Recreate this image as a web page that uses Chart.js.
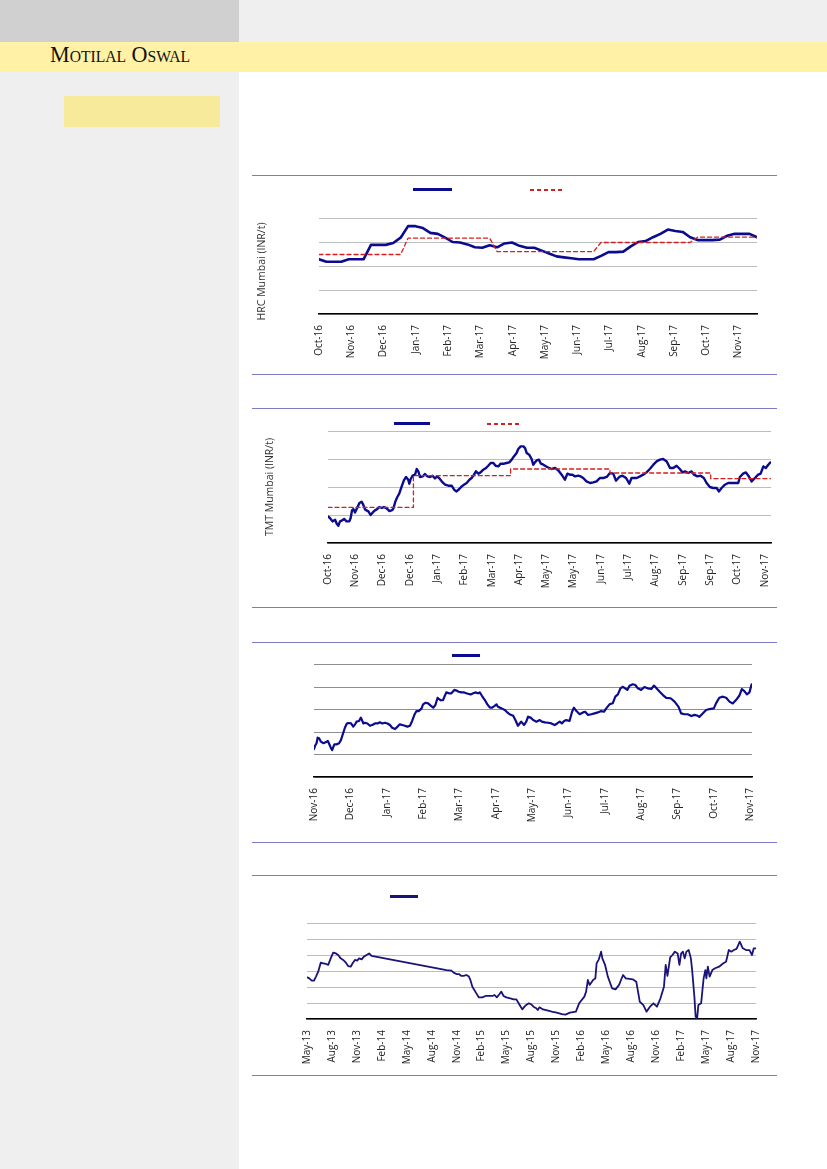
<!DOCTYPE html>
<html>
<head>
<meta charset="utf-8">
<script src="https://cdn.jsdelivr.net/npm/chart.js@4.4.1/dist/chart.umd.min.js"></script>
<style>
  html, body { margin: 0; padding: 0; }
  body { width: 827px; height: 1169px; position: relative; overflow: hidden; background: #fff; font-family: "Open Sans", sans-serif; }
  .box { position: absolute; }
  canvas { position: absolute; }
  .rule { position: absolute; left: 252px; width: 525px; height: 0; border-top: 1.5px solid #7b7bc6; }
  .legBlue { position: absolute; height: 3px; background: #0b0b8f; }
  .legRed { position: absolute; height: 1.5px; background: repeating-linear-gradient(90deg, #d42020 0 4px, transparent 4px 7px); }
  .brand { position: absolute; left: 50px; top: 41px; font-family: "Liberation Serif", serif; font-variant: small-caps; font-size: 24px; color: #111; transform: scaleX(0.92); transform-origin: left top; }
</style>
</head>
<body>
<!-- page frame -->
<div class="box" style="left:0;top:0;width:239px;height:42px;background:#d0d0d0"></div>
<div class="box" style="left:239px;top:0;width:588px;height:42px;background:#efefef"></div>
<div class="box" style="left:0;top:72px;width:239px;height:1097px;background:#efefef"></div>
<div class="box" style="left:0;top:42px;width:827px;height:30px;background:#fff1a6"></div>
<div class="brand">Motilal Oswal</div>
<div class="box" style="left:64px;top:96px;width:156px;height:31px;background:#f7eb9b"></div>

<div class="rule" style="top:175px"></div>
<div class="rule" style="top:374px"></div>
<div class="rule" style="top:408px"></div>
<div class="rule" style="top:607px"></div>
<div class="rule" style="top:642px"></div>
<div class="rule" style="top:842px"></div>
<div class="rule" style="top:875px"></div>
<div class="rule" style="top:1075px"></div>

<!-- legend samples (legend text is absent in the source) -->
<div class="legBlue" style="left:413px;top:188px;width:39px"></div>
<div class="legRed" style="left:530px;top:189px;width:35px"></div>
<div class="legBlue" style="left:394px;top:422px;width:36px"></div>
<div class="legRed" style="left:487px;top:423px;width:33px"></div>
<div class="legBlue" style="left:452px;top:654px;width:28px"></div>
<div class="legBlue" style="left:390px;top:895px;width:28px;background:#1a1479"></div>

<canvas id="hrcChart" width="525" height="170" style="left:250px;top:196px"></canvas>
<canvas id="tmtChart" width="529" height="185" style="left:256px;top:410px"></canvas>
<canvas id="thirdChart" width="476" height="186" style="left:290px;top:645px"></canvas>
<canvas id="longChart" width="488" height="168" style="left:283px;top:903px"></canvas>

<script>
// ---- chart 1 : HRC Mumbai, weekly ----
const hrcLabels = ['Oct-16', 'Nov-16', 'Dec-16', 'Jan-17', 'Feb-17', 'Mar-17', 'Apr-17',
    'May-17', 'Jun-17', 'Jul-17', 'Aug-17', 'Sep-17', 'Oct-17', 'Nov-17'];
const hrcPrice = [36400, 35900, 35900, 35900, 36400, 36400, 36400, 39400, 39400, 39400,
    39800, 40900, 43300, 43300, 42900, 41900, 41700, 40900, 40000, 39900,
    39500, 38900, 38800, 39300, 38900, 39700, 39900, 39200, 38800, 38800,
    38200, 37600, 37000, 36800, 36600, 36400, 36400, 36400, 37100, 37900,
    37900, 38000, 39100, 40000, 40200, 41000, 41700, 42600, 42300, 42100,
    41000, 40400, 40400, 40400, 40500, 41300, 41700, 41700, 41700, 41000];
const hrcList = [37400, 37400, 37400, 37400, 37400, 37400, 37400, 37400, 37400, 37400,
    37400, 37400, 40800, 40800, 40800, 40800, 40800, 40800, 40800, 40800,
    40800, 40800, 40800, 40800, 38000, 38000, 38000, 38000, 38000, 38000,
    38000, 38000, 38000, 38000, 38000, 38000, 38000, 38000, 39900, 39900,
    39900, 39900, 39900, 39900, 39900, 39900, 39900, 39900, 39900, 39900,
    39900, 41000, 41000, 41000, 41000, 41000, 41000, 41000, 41000, 41000];

// ---- chart 2 : TMT Mumbai, daily ----
const tmtLabels = ['Oct-16', 'Nov-16', 'Dec-16', 'Dec-16', 'Jan-17', 'Feb-17', 'Mar-17', 'Apr-17',
    'May-17', 'May-17', 'Jun-17', 'Jul-17', 'Aug-17', 'Sep-17', 'Sep-17', 'Oct-17', 'Nov-17'];
const tmtX = [0.00, 0.07, 0.17, 0.26, 0.32, 0.38, 0.44, 0.50, 0.59, 0.68, 0.78, 0.83, 0.88, 0.93, 0.99,
    1.05, 1.15, 1.23, 1.29, 1.36, 1.48, 1.56, 1.64, 1.72, 1.81, 1.88, 1.97, 2.05, 2.15, 2.25,
    2.33, 2.39, 2.47, 2.54, 2.61, 2.70, 2.78, 2.86, 2.94, 2.98, 3.03, 3.10, 3.19, 3.25, 3.31,
    3.37, 3.47, 3.55, 3.64, 3.74, 3.83, 3.92, 4.00, 4.10, 4.20, 4.29, 4.41, 4.53, 4.62, 4.71,
    4.81, 4.90, 4.98, 5.08, 5.18, 5.26, 5.35, 5.42, 5.51, 5.59, 5.69, 5.79, 5.87, 5.96, 6.06,
    6.14, 6.24, 6.32, 6.45, 6.54, 6.64, 6.73, 6.81, 6.91, 6.97, 7.06, 7.16, 7.22, 7.28, 7.37,
    7.46, 7.52, 7.58, 7.64, 7.73, 7.80, 7.89, 8.03, 8.19, 8.32, 8.44, 8.56, 8.68, 8.77, 8.86,
    8.96, 9.05, 9.17, 9.26, 9.35, 9.47, 9.60, 9.72, 9.84, 9.96, 10.09, 10.21, 10.33, 10.45, 10.55,
    10.67, 10.79, 10.92, 11.04, 11.12, 11.31, 11.43, 11.55, 11.67, 11.79, 11.92, 12.04, 12.16, 12.28, 12.41,
    12.53, 12.65, 12.77, 12.89, 12.99, 13.08, 13.20, 13.32, 13.41, 13.53, 13.65, 13.77, 13.87, 13.99, 14.11,
    14.24, 14.32, 14.42, 14.54, 14.66, 14.85, 15.03, 15.09, 15.21, 15.31, 15.40, 15.52, 15.64, 15.76, 15.85,
    15.95, 16.04, 16.13, 16.21];
const tmtPrice = [29750, 29460, 28860, 29160, 28450, 28090, 28860, 28980, 29290, 28860, 28860, 29460, 30820, 31070, 30460,
    31070, 32140, 32380, 31840, 30950, 30640, 30000, 30460, 30820, 31070, 31430, 31250, 31430, 31180, 30710,
    30820, 31070, 32430, 33210, 33800, 35110, 36180, 36790, 36300, 35590, 36430, 37020, 37200, 38210, 37790,
    36790, 36890, 37320, 36890, 36790, 37020, 36540, 36890, 36430, 35820, 35410, 35230, 35230, 34520, 34210,
    34640, 35110, 35410, 35710, 36300, 36610, 37200, 37790, 37380, 37610, 38090, 38390, 38800, 39290, 39290,
    38800, 38680, 39160, 39160, 39290, 39390, 39880, 40460, 41070, 41790, 42250, 42250, 41960, 41070, 40770,
    40000, 38980, 39390, 39750, 39880, 39160, 38980, 38570, 38210, 38390, 37960, 37200, 36300, 37380, 37200,
    37200, 36890, 37020, 36890, 36610, 36000, 35710, 35820, 36000, 36610, 36610, 36790, 37500, 37380, 36130,
    36790, 37020, 36610, 35590, 36610, 36610, 36890, 37200, 37610, 38210, 38980, 39570, 39880, 40000, 39570,
    38390, 38390, 38800, 38210, 37610, 37790, 37500, 37790, 37200, 36890, 37020, 36610, 35710, 35000, 34820,
    34820, 34210, 34820, 35410, 35710, 35710, 35710, 36790, 37380, 37610, 37020, 36000, 36610, 37200, 37380,
    38680, 38390, 38980, 39390];
// list price revisions (step changes)
const tmtListX = [0, 3.13, 6.69, 10.33, 14.02, 16.21];
const tmtList = [31360, 37020, 38210, 37500, 36480, 36480];

// ---- chart 3 ----
const thirdLabels = ['Nov-16', 'Dec-16', 'Jan-17', 'Feb-17', 'Mar-17', 'Apr-17', 'May-17',
    'Jun-17', 'Jul-17', 'Aug-17', 'Sep-17', 'Oct-17', 'Nov-17'];
const thirdX = [0.00, 0.03, 0.07, 0.10, 0.14, 0.19, 0.26, 0.32, 0.38, 0.41, 0.47, 0.50, 0.56, 0.62, 0.69,
    0.74, 0.81, 0.85, 0.90, 0.94, 1.02, 1.08, 1.13, 1.17, 1.24, 1.29, 1.36, 1.40, 1.47, 1.54,
    1.60, 1.68, 1.75, 1.81, 1.88, 1.95, 2.02, 2.09, 2.15, 2.23, 2.30, 2.36, 2.43, 2.50, 2.57,
    2.64, 2.70, 2.77, 2.82, 2.88, 2.96, 3.00, 3.07, 3.14, 3.21, 3.28, 3.34, 3.40, 3.43, 3.49,
    3.55, 3.64, 3.71, 3.78, 3.86, 3.92, 3.98, 4.06, 4.13, 4.19, 4.26, 4.31, 4.38, 4.44, 4.51,
    4.56, 4.62, 4.70, 4.77, 4.84, 4.90, 4.97, 5.02, 5.06, 5.16, 5.25, 5.32, 5.38, 5.48, 5.54,
    5.61, 5.66, 5.70, 5.78, 5.84, 5.89, 5.96, 6.03, 6.12, 6.21, 6.27, 6.35, 6.44, 6.53, 6.62,
    6.69, 6.76, 6.82, 6.88, 6.94, 7.03, 7.10, 7.15, 7.22, 7.31, 7.40, 7.46, 7.54, 7.63, 7.72,
    7.81, 7.90, 7.98, 8.04, 8.13, 8.22, 8.29, 8.36, 8.43, 8.50, 8.56, 8.62, 8.68, 8.77, 8.84,
    8.91, 9.00, 9.09, 9.18, 9.28, 9.35, 9.41, 9.51, 9.60, 9.69, 9.81, 9.92, 10.03, 10.10, 10.19,
    10.28, 10.38, 10.47, 10.56, 10.60, 10.70, 10.79, 10.88, 11.00, 11.06, 11.15, 11.25, 11.34, 11.43, 11.52,
    11.61, 11.70, 11.77, 11.84, 11.91, 11.98, 12.04];
const thirdValue = [124, 139, 150, 175, 172, 157, 150, 154, 160, 150, 127, 120, 145, 145, 150,
    164, 199, 219, 237, 240, 238, 224, 234, 246, 249, 264, 238, 241, 238, 228,
    231, 238, 238, 243, 238, 241, 238, 231, 219, 213, 224, 234, 231, 228, 224,
    228, 249, 279, 293, 293, 305, 323, 330, 327, 317, 308, 320, 352, 347, 341,
    342, 376, 372, 372, 387, 384, 379, 376, 376, 372, 369, 367, 372, 376, 372,
    376, 361, 342, 323, 308, 308, 316, 323, 312, 305, 298, 287, 279, 272, 253,
    228, 238, 246, 231, 246, 268, 264, 253, 246, 253, 246, 243, 241, 238, 231,
    238, 246, 238, 249, 253, 249, 290, 308, 293, 279, 287, 290, 276, 279, 283,
    287, 293, 290, 305, 323, 328, 357, 367, 394, 401, 394, 387, 406, 412, 409,
    394, 387, 400, 394, 391, 406, 397, 379, 364, 352, 350, 335, 312, 283, 279,
    279, 271, 276, 272, 267, 283, 298, 302, 305, 327, 352, 357, 352, 335, 327,
    342, 361, 391, 382, 367, 376, 412];

// ---- chart 4 : long history, quarterly labels ----
const longLabels = ['May-13', 'Aug-13', 'Nov-13', 'Feb-14', 'May-14', 'Aug-14', 'Nov-14', 'Feb-15',
    'May-15', 'Aug-15', 'Nov-15', 'Feb-16', 'May-16', 'Aug-16', 'Nov-16', 'Feb-17', 'May-17',
    'Aug-17', 'Nov-17'];
const longX = [0.01, 0.09, 0.19, 0.28, 0.36, 0.45, 0.55, 0.65, 0.76, 0.85, 0.95, 1.05, 1.16, 1.25, 1.35,
    1.45, 1.56, 1.65, 1.75, 1.83, 1.92, 2.01, 2.09, 2.19, 2.28, 2.39, 2.49, 2.59, 5.59, 5.79,
    5.88, 5.99, 6.09, 6.19, 6.28, 6.39, 6.49, 6.55, 6.63, 6.79, 6.89, 7.03, 7.16, 7.29, 7.43,
    7.52, 7.61, 7.72, 7.79, 7.88, 7.99, 8.15, 8.28, 8.39, 8.45, 8.55, 8.63, 8.72, 8.79, 8.89,
    8.99, 9.08, 9.19, 9.25, 9.32, 9.46, 9.67, 9.81, 10.01, 10.22, 10.36, 10.54, 10.78, 10.91, 11.12,
    11.19, 11.26, 11.33, 11.47, 11.56, 11.61, 11.70, 11.79, 11.84, 11.95, 12.06, 12.23, 12.37, 12.51, 12.67,
    12.78, 13.06, 13.20, 13.34, 13.48, 13.61, 13.75, 13.89, 14.03, 14.17, 14.31, 14.38, 14.45, 14.56, 14.65,
    14.75, 14.86, 14.93, 15.00, 15.07, 15.14, 15.21, 15.30, 15.39, 15.44, 15.53, 15.58, 15.64, 15.69, 15.80,
    15.90, 15.97, 16.01, 16.07, 16.14, 16.25, 16.36, 16.52, 16.69, 16.80, 16.91, 17.01, 17.11, 17.22, 17.35,
    17.47, 17.60, 17.74, 17.84, 17.91, 17.98];
const longValue = [260, 254, 240, 240, 265, 296, 352, 348, 344, 338, 379, 415, 410, 400, 379,
    369, 352, 331, 327, 348, 369, 365, 379, 373, 390, 400, 410, 394, 306, 302,
    290, 281, 281, 269, 269, 275, 265, 244, 202, 160, 135, 135, 144, 144, 144,
    150, 135, 156, 171, 144, 135, 129, 123, 123, 108, 81, 60, 77, 88, 98,
    92, 77, 67, 56, 73, 60, 52, 46, 40, 31, 27, 40, 46, 98, 140,
    171, 244, 213, 244, 254, 348, 373, 421, 379, 338, 265, 192, 185, 213, 275,
    254, 248, 233, 108, 88, 46, 77, 98, 77, 129, 202, 338, 269, 385, 400,
    421, 410, 338, 410, 421, 379, 421, 431, 379, 306, 140, 15, 4, 88, 98,
    254, 306, 254, 327, 265, 306, 317, 327, 348, 358, 431, 421, 431, 438, 483,
    442, 431, 431, 400, 442, 442];

const pairs = (xs, ys) => ys.map((y, i) => ({ x: xs[i], y: y }));
const tickFont = { family: "'Open Sans', sans-serif", size: 10 };

// shared builder: plot area is pinned with afterFit so it lines up with the page
const buildChart = (id, cfg) => {
    const ctx = document.getElementById(id).getContext('2d');
    return new Chart(ctx, {
        type: 'line',
        data: { datasets: cfg.datasets },
        options: {
            responsive: false,
            animation: false,
            layout: { padding: { top: cfg.padTop, right: cfg.padRight, left: 0, bottom: 0 } },
            plugins: { legend: { display: false }, tooltip: { enabled: false } },
            elements: { point: { radius: 0 }, line: { tension: 0, borderJoinStyle: 'round', borderCapStyle: 'round' } },
            scales: {
                x: {
                    type: 'linear',
                    min: 0,
                    max: cfg.xMax,
                    afterBuildTicks: (axis) => { axis.ticks = cfg.labels.map((l, i) => ({ value: i })); },
                    afterFit: (axis) => { axis.height = cfg.xAxisH; },
                    ticks: {
                        autoSkip: false,
                        minRotation: 90,
                        maxRotation: 90,
                        padding: 3,
                        color: '#222',
                        font: tickFont,
                        callback: (v) => cfg.labels[v],
                    },
                    grid: { display: false },
                    border: { color: '#000', width: 1.5 },
                },
                y: {
                    min: cfg.yMin,
                    max: cfg.yMax,
                    afterFit: (axis) => { axis.width = cfg.yAxisW; },
                    ticks: { display: false, stepSize: cfg.yStep },
                    grid: { color: cfg.gridColor, lineWidth: 1, drawTicks: false },
                    border: { display: false },
                    title: cfg.yTitle ? {
                        display: true,
                        text: cfg.yTitle,
                        color: '#333',
                        font: { family: "'Open Sans', sans-serif", size: 10.5 },
                        padding: { top: cfg.titlePad, bottom: 0 },
                    } : { display: false },
                },
            },
        },
    });
};

buildChart('hrcChart', {
    labels: hrcLabels, xMax: 13.57, yMin: 25000, yMax: 45000, yStep: 5000,
    padTop: 22, padRight: 18, xAxisH: 52, yAxisW: 69, titlePad: 6,
    gridColor: '#bdbdbd', yTitle: 'HRC Mumbai (INR/t)    ',
    datasets: [
        { label: 'List price', data: hrcList.map((v, i) => ({ x: i * 7 / 30.44, y: v })),
          borderColor: '#d42020', borderWidth: 1.3, borderDash: [4, 3] },
        { label: 'HRC Mumbai', data: hrcPrice.map((v, i) => ({ x: i * 7 / 30.44, y: v })),
          borderColor: '#0b0b8f', borderWidth: 2.6 },
    ],
});

buildChart('tmtChart', {
    labels: tmtLabels, xMax: 16.23, yMin: 25000, yMax: 45000, yStep: 5000,
    padTop: 21, padRight: 14, xAxisH: 52, yAxisW: 72, titlePad: 8,
    gridColor: '#bdbdbd', yTitle: 'TMT Mumbai (INR/t)',
    datasets: [
        { label: 'List price', data: pairs(tmtListX, tmtList), stepped: 'before',
          borderColor: '#d42020', borderWidth: 1.3, borderDash: [4, 3] },
        { label: 'TMT Mumbai', data: pairs(tmtX, tmtPrice),
          borderColor: '#0b0b8f', borderWidth: 2.4 },
    ],
});

buildChart('thirdChart', {
    labels: thirdLabels, xMax: 12.05, yMin: 0, yMax: 500, yStep: 100,
    padTop: 19.5, padRight: 14, xAxisH: 54, yAxisW: 24,
    gridColor: '#8e8e8e',
    datasets: [
        { label: 'Series', data: pairs(thirdX, thirdValue), borderColor: '#0b0b8f', borderWidth: 2.2 },
    ],
});

buildChart('longChart', {
    labels: longLabels, xMax: 18, yMin: 0, yMax: 600, yStep: 100,
    padTop: 20, padRight: 14, xAxisH: 52, yAxisW: 24,
    gridColor: '#bdbdbd',
    datasets: [
        { label: 'Series', data: pairs(longX, longValue), borderColor: '#1a1479', borderWidth: 1.8 },
    ],
});
</script>
</body>
</html>
